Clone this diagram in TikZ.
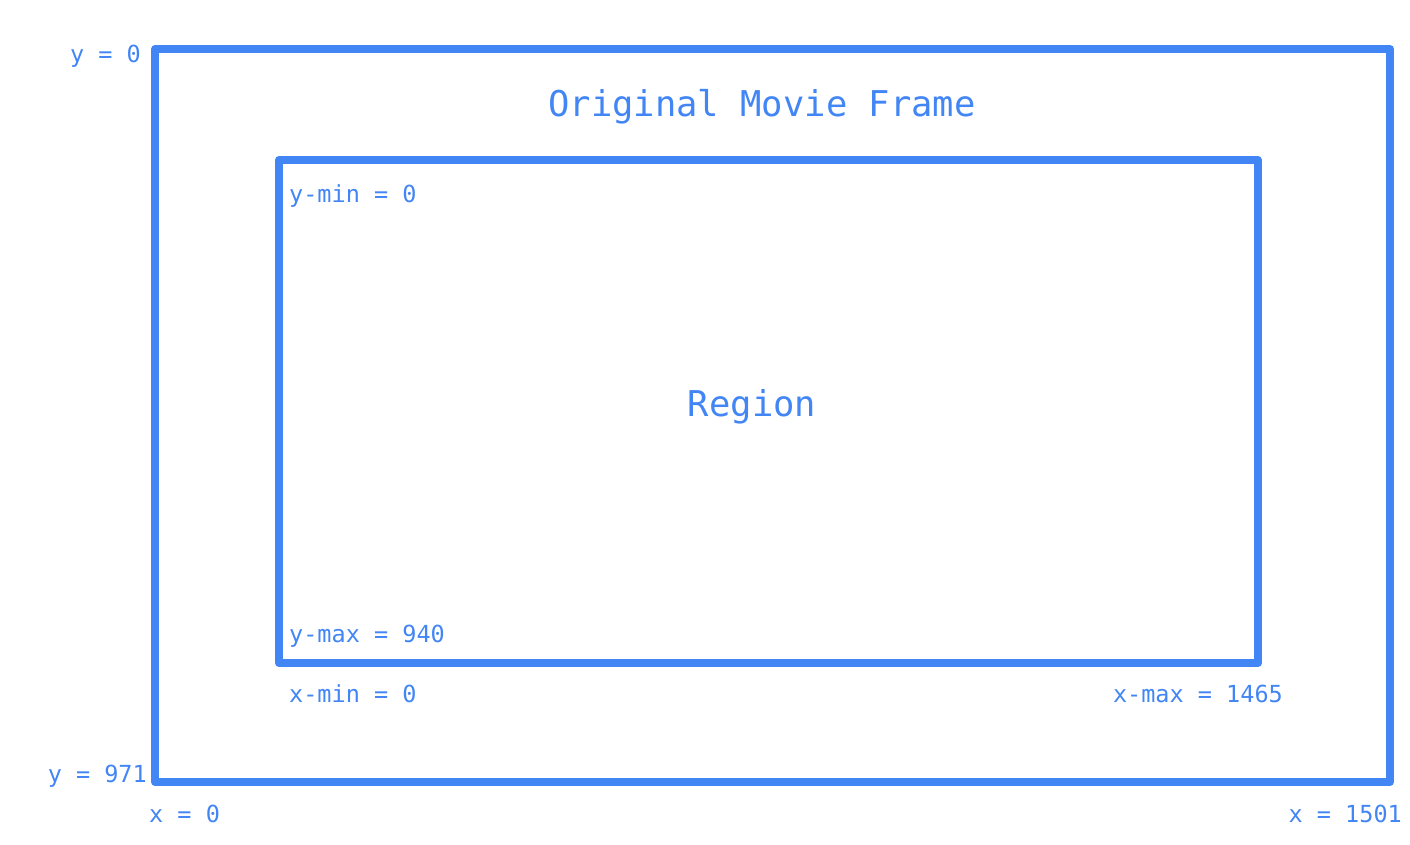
\documentclass[tikz,border=0pt]{standalone}
\usepackage{fontspec}
\setmonofont{DejaVu Sans Mono}
\definecolor{gblue}{HTML}{4285F4}
\tikzset{
  frame/.style={draw=gblue, line width=8pt, line join=round},
  lbl/.style={text=gblue, font=\ttfamily\fontsize{23.5}{28}\selectfont, inner sep=0pt},
  title/.style={text=gblue, font=\ttfamily\fontsize{35.5}{42}\selectfont, inner sep=0pt},
}
\begin{document}
\begin{tikzpicture}[x=1pt,y=-1pt]
\useasboundingbox (0,0) rectangle (1410,844);
\coordinate (otl) at (155,49);
\coordinate (obr) at (1390,782);
\coordinate (itl) at (279,160);
\coordinate (ibr) at (1258,663);
\draw[frame] (otl) rectangle (obr);
\draw[frame] (itl) rectangle (ibr);
\node[title, anchor=base] (t1) at (762,116) {Original Movie Frame};
\node[title, anchor=base] (t2) at (752,416) {Region};
\node[lbl, anchor=base east] (l1) at (141,62) {y = 0};
\node[lbl, anchor=base west] (l2) at (289,202) {y-min = 0};
\node[lbl, anchor=base west] (l3) at (289,642) {y-max = 940};
\node[lbl, anchor=base west] (l4) at (289,702) {x-min = 0};
\node[lbl, anchor=base east] (l5) at (1283,702) {x-max = 1465};
\node[lbl, anchor=base east] (l6) at (147,782) {y = 971};
\node[lbl, anchor=base west] (l7) at (149,822) {x = 0};
\node[lbl, anchor=base east] (l8) at (1402,822) {x = 1501};
\end{tikzpicture}
\end{document}
